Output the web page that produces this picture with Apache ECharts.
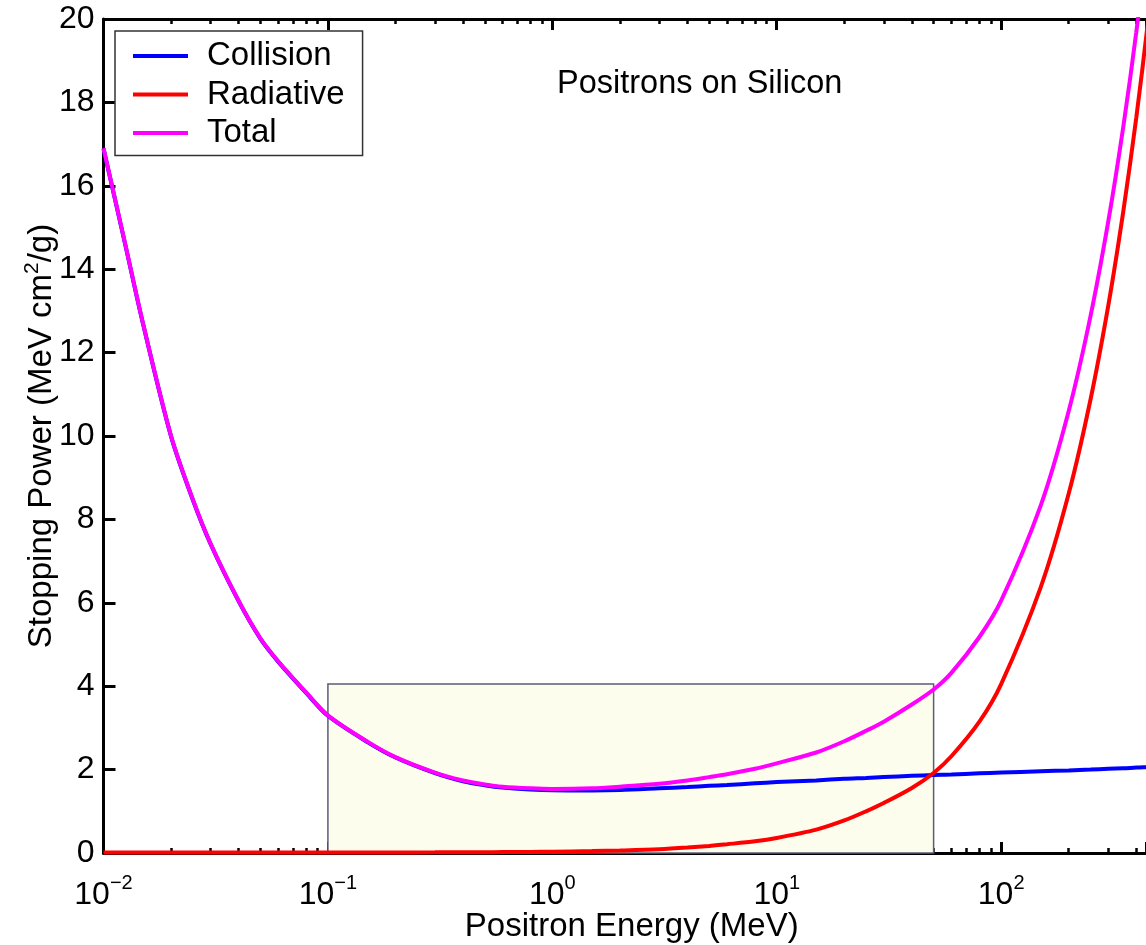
<!DOCTYPE html>
<html>
<head>
<meta charset="utf-8">
<title>Positrons on Silicon</title>
<script src="https://cdn.jsdelivr.net/npm/echarts@6/dist/echarts.min.js"></script>
<style>
  html, body { margin: 0; padding: 0; background: #fff; }
  #chart { width: 1146px; height: 945px; }
</style>
</head>
<body>
<div id="chart"></div>
<script>
// positron energy (MeV)
var energy = [0.01, 0.0125, 0.015, 0.02, 0.025, 0.03, 0.04, 0.05, 0.06, 0.08,
  0.1, 0.15, 0.2, 0.3, 0.4, 0.5, 0.6, 0.8, 1, 1.5,
  2, 3, 4, 5, 6, 8, 10, 15, 20, 25,
  30, 40, 50, 60, 80, 100, 150, 200, 250, 300,
  350, 400, 450, 500];
// stopping power (MeV cm2/g)
var collision = [16.89, 14.59, 12.69, 9.99, 8.47, 7.41, 6.04, 5.14, 4.59, 3.84,
  3.29, 2.66, 2.29, 1.915, 1.72, 1.625, 1.57, 1.525, 1.505, 1.5,
  1.51, 1.55, 1.58, 1.61, 1.63, 1.67, 1.7, 1.74, 1.78, 1.8,
  1.82, 1.85, 1.87, 1.88, 1.91, 1.93, 1.96, 1.98, 2.0, 2.02,
  2.03, 2.05, 2.06, 2.07];
var radiative = [0.01, 0.01, 0.01, 0.01, 0.01, 0.01, 0.01, 0.01, 0.01, 0.01,
  0.01, 0.012, 0.013, 0.015, 0.018, 0.02, 0.022, 0.026, 0.03, 0.045,
  0.06, 0.09, 0.13, 0.17, 0.21, 0.28, 0.36, 0.56, 0.78, 1.0,
  1.2, 1.56, 1.92, 2.32, 3.15, 4.05, 6.37, 8.62, 10.87, 13.12,
  15.38, 17.63, 19.89, 22.13];
var total = [16.9, 14.6, 12.7, 10.0, 8.48, 7.42, 6.05, 5.15, 4.6, 3.85,
  3.3, 2.67, 2.3, 1.93, 1.74, 1.645, 1.59, 1.55, 1.535, 1.55,
  1.59, 1.66, 1.74, 1.82, 1.89, 2.02, 2.15, 2.41, 2.68, 2.93,
  3.15, 3.56, 3.92, 4.32, 5.18, 6.05, 8.33, 10.6, 12.87, 15.14,
  17.41, 19.68, 21.95, 24.2];
// shaded region
var boxEnergy = [0.1, 50];
var boxPower = [0, 4.05];

var FONT = "'Liberation Sans', Arial, Helvetica, sans-serif";

function pairs(ys) {
  return energy.map(function (e, i) { return [e, ys[i]]; });
}

function energyAxis(pos, showLabel) {
  return {
    type: 'log',
    logBase: 10,
    min: 0.01,
    max: 442,
    position: pos,
    axisLine: { show: true, onZero: false, lineStyle: { color: '#000', width: 3 } },
    axisTick: { inside: true, length: 11, lineStyle: { color: '#000', width: 3 } },
    minorTick: { show: true, splitNumber: 9, length: 5, lineStyle: { color: '#000', width: 2.5 } },
    splitLine: { show: false },
    minorSplitLine: { show: false },
    axisLabel: {
      show: showLabel,
      margin: 20,
      formatter: function (v) {
        var p = Math.log(v) / Math.LN10;
        var r = Math.round(p);
        if (Math.abs(p - r) > 1e-6) return '';
        return '{b|10}{s|' + (r < 0 ? '\u2212' + (-r) : r) + '}';
      },
      rich: {
        b: { fontSize: 32, fontFamily: FONT, color: '#000', lineHeight: 44 },
        s: { fontSize: 20, fontFamily: FONT, color: '#000', lineHeight: 20, verticalAlign: 'top' }
      }
    }
  };
}

var chart = echarts.init(document.getElementById('chart'));

var xBottom = energyAxis('bottom', true);
xBottom.name = 'Positron Energy (MeV)';
xBottom.nameLocation = 'middle';
xBottom.nameGap = 57;
xBottom.nameMoveOverlap = false;
xBottom.nameTextStyle = { fontSize: 33, fontFamily: FONT, color: '#000', lineHeight: 34, padding: [0, 0, 0, 14] };

var option = {
  backgroundColor: '#fff',
  animation: false,
  title: {
    text: 'Positrons on Silicon',
    left: 552,
    top: 63,
    textStyle: { fontSize: 32.5, fontWeight: 'normal', fontFamily: FONT, color: '#000' }
  },
  legend: {
    data: ['Collision', 'Radiative', 'Total'],
    orient: 'vertical',
    left: 115,
    top: 31,
    padding: [8.5, 18, 6, 18],
    itemGap: 5.5,
    itemWidth: 55,
    itemHeight: 4,
    icon: 'rect',
    backgroundColor: '#fff',
    borderColor: '#333',
    borderWidth: 1.5,
    borderRadius: 0,
    textStyle: { fontSize: 33, fontFamily: FONT, color: '#000', lineHeight: 32, padding: [0, 0, 0, 14] }
  },
  grid: {
    left: 103.5,
    right: 0,
    top: 19,
    bottom: 92,
    outerBoundsMode: 'none'
  },
  xAxis: [xBottom, energyAxis('top', false)],
  yAxis: {
    type: 'value',
    min: 0,
    max: 20,
    interval: 2,
    axisLine: { show: true, lineStyle: { color: '#000', width: 3 } },
    axisTick: { inside: true, length: 12, lineStyle: { color: '#000', width: 3 } },
    splitLine: { show: false },
    axisLabel: { color: '#000', fontSize: 32, fontFamily: FONT, margin: 9 },
    name: 'Stopping Power (MeV cm{sup|2}/g)',
    nameLocation: 'middle',
    nameGap: 42,
    nameMoveOverlap: false,
    nameTextStyle: {
      fontSize: 33, fontFamily: FONT, color: '#000', lineHeight: 40,
      rich: {
        sup: { fontSize: 21, fontFamily: FONT, color: '#000', lineHeight: 20, verticalAlign: 'top' }
      }
    }
  },
  series: [
    {
      name: 'Collision',
      type: 'line',
      showSymbol: false,
      smooth: 0.3,
      data: pairs(collision),
      lineStyle: { color: '#0000ff', width: 4 },
      itemStyle: { color: '#0000ff' },
      markArea: {
        silent: true,
        z: 1,
        itemStyle: { color: '#fdfdee', borderColor: '#5c5c78', borderWidth: 1.5 },
        data: [[{ coord: [boxEnergy[0], boxPower[0]] }, { coord: [boxEnergy[1], boxPower[1]] }]]
      }
    },
    {
      name: 'Radiative',
      type: 'line',
      showSymbol: false,
      smooth: 0.3,
      data: pairs(radiative),
      lineStyle: { color: '#ff0000', width: 4 },
      itemStyle: { color: '#ff0000' }
    },
    {
      name: 'Total',
      type: 'line',
      showSymbol: false,
      smooth: 0.3,
      data: pairs(total),
      lineStyle: { color: '#ff00ff', width: 4 },
      itemStyle: { color: '#ff00ff' }
    }
  ]
};

chart.setOption(option);
</script>
</body>
</html>
